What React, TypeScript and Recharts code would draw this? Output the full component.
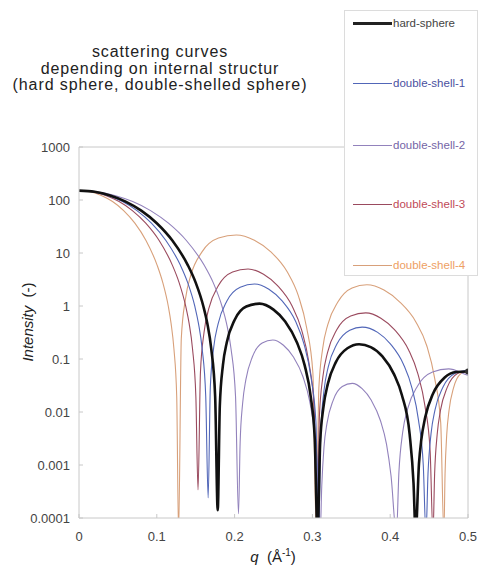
import React from 'react';
import { LineChart, Line, XAxis, YAxis } from 'recharts';

// [q (1/Å), intensity]
const hardSphere: [number, number][] = [
  [0, 150], [0.02, 142.6], [0.04, 122], [0.06, 93.4], [0.08, 63.1], [0.1, 36.5], [0.12, 17.2],
  [0.14, 5.85], [0.15, 2.76], [0.16, 0.969], [0.165, 0.464], [0.17, 0.156], [0.175, 0.0196],
  [0.1783, 0.00014], [0.181, 0.0131], [0.185, 0.0767], [0.19, 0.207], [0.2, 0.544], [0.215, 0.976],
  [0.232, 1.107], [0.25, 0.853], [0.265, 0.509], [0.28, 0.207], [0.29, 0.0767], [0.298, 0.0188],
  [0.303, 0.00313], [0.3066, 0.00005], [0.31, 0.00267], [0.314, 0.0118], [0.32, 0.0347],
  [0.33, 0.0863], [0.345, 0.1595], [0.36, 0.19], [0.375, 0.168], [0.39, 0.112], [0.405, 0.0512],
  [0.415, 0.0209], [0.425, 0.00378], [0.43, 0.00045], [0.4327, 0.00005], [0.437, 0.00107],
  [0.44, 0.00301], [0.445, 0.00795], [0.455, 0.0221], [0.47, 0.0447], [0.485, 0.0568], [0.5, 0.058],
];

const doubleShell1: [number, number][] = [
  [0, 150], [0.0186, 142.6], [0.0372, 122], [0.0559, 93.4], [0.0745, 63.1], [0.0931, 36.5],
  [0.1117, 17.2], [0.1304, 5.85], [0.1397, 2.76], [0.149, 0.969], [0.1536, 0.464], [0.1583, 0.156],
  [0.1629, 0.0196], [0.166, 0.00024],
  [0.1688, 0.0292], [0.1731, 0.164], [0.1788, 0.462], [0.1901, 1.245], [0.2072, 2.26], [0.2256, 2.6],
  [0.2441, 2.07], [0.2611, 1.245], [0.2782, 0.519], [0.2895, 0.184], [0.2981, 0.0462], [0.3045, 0.00653],
  [0.308, 0.00005],
  [0.3108, 0.00449], [0.3149, 0.0252], [0.3204, 0.0711], [0.3315, 0.191], [0.348, 0.348], [0.364, 0.4],
  [0.3839, 0.318], [0.4005, 0.191], [0.417, 0.0798], [0.428, 0.0283], [0.4363, 0.00711], [0.4425, 0.001],
  [0.446, 0.00005],
  [0.4486, 0.00069], [0.4525, 0.0039], [0.4576, 0.011], [0.4679, 0.0295], [0.4834, 0.0537], [0.5, 0.062],
];

const doubleShell2: [number, number][] = [
  [0, 150], [0.023, 142.6], [0.046, 122], [0.069, 93.4], [0.092, 63.1], [0.115, 36.5], [0.138, 17.2],
  [0.161, 5.85], [0.1725, 2.76], [0.184, 0.969], [0.1897, 0.464], [0.1954, 0.156], [0.2012, 0.0196],
  [0.205, 0.00012],
  [0.2071, 0.00257], [0.2103, 0.0145], [0.2145, 0.0407], [0.2229, 0.11], [0.2355, 0.2], [0.2491, 0.229],
  [0.2628, 0.182], [0.2754, 0.11], [0.288, 0.0457], [0.2964, 0.0162], [0.3027, 0.00407], [0.3074, 0.00058],
  [0.31, 0.00005],
  [0.312, 0.00039], [0.3149, 0.00219], [0.3188, 0.00617], [0.3267, 0.0166], [0.3384, 0.0302],
  [0.3512, 0.0347], [0.3639, 0.0275], [0.3757, 0.0166], [0.3874, 0.00692], [0.3953, 0.00245],
  [0.4011, 0.00062], [0.408, 0.00005],
  [0.4112, 0.00073], [0.416, 0.0041], [0.4224, 0.0115], [0.4352, 0.031], [0.4544, 0.0566],
  [0.4752, 0.065], [0.496, 0.0516], [0.5, 0.049],
];

const doubleShell3: [number, number][] = [
  [0, 150], [0.0172, 142.6], [0.0343, 122], [0.0515, 93.4], [0.0686, 63.1], [0.0858, 36.5],
  [0.103, 17.2], [0.1201, 5.85], [0.1287, 2.76], [0.1373, 0.969], [0.1416, 0.464], [0.1459, 0.156],
  [0.1502, 0.0196], [0.153, 0.00034],
  [0.1561, 0.0562], [0.1607, 0.316], [0.1668, 0.891], [0.179, 2.4], [0.1974, 4.37], [0.2173, 5.0],
  [0.2372, 3.98], [0.2555, 2.4], [0.2739, 1.0], [0.2861, 0.355], [0.2953, 0.0891], [0.3022, 0.0126],
  [0.306, 0.00005],
  [0.309, 0.00832], [0.3135, 0.0468], [0.3194, 0.132], [0.3313, 0.355], [0.3492, 0.646], [0.3686, 0.741],
  [0.388, 0.589], [0.4058, 0.355], [0.4237, 0.148], [0.4356, 0.0525], [0.4446, 0.0132], [0.4513, 0.00186],
  [0.455, 0.00005],
  [0.4571, 0.00068], [0.4604, 0.0038], [0.4646, 0.0107], [0.4732, 0.0288], [0.486, 0.0525], [0.5, 0.06],
];

const doubleShell4: [number, number][] = [
  [0, 150], [0.0144, 142.6], [0.0287, 122], [0.0431, 93.4], [0.0574, 63.1], [0.0718, 36.5],
  [0.0861, 17.2], [0.1005, 5.85], [0.1077, 2.76], [0.1149, 0.969], [0.1184, 0.464], [0.122, 0.156],
  [0.1256, 0.0196], [0.128, 0.00005],
  [0.1315, 0.245], [0.1369, 1.38], [0.1439, 3.89], [0.1581, 10.5], [0.1793, 19.1], [0.2023, 21.9],
  [0.2254, 17.4], [0.2466, 10.5], [0.2678, 4.37], [0.282, 1.55], [0.2926, 0.389], [0.3006, 0.055],
  [0.305, 0.00005],
  [0.3083, 0.0282], [0.3132, 0.158], [0.3198, 0.447], [0.3329, 1.2], [0.351, 2.19], [0.37, 2.51],
  [0.392, 2.0], [0.412, 1.2], [0.433, 0.501], [0.447, 0.178], [0.457, 0.0447], [0.4649, 0.0063],
  [0.469, 0.00005],
  [0.4705, 0.00068], [0.4727, 0.0038], [0.4756, 0.0107], [0.4815, 0.0288], [0.4904, 0.0525], [0.5, 0.06],
];

const xTicks = [0, 0.1, 0.2, 0.3, 0.4, 0.5];
const yTicks = [0.0001, 0.001, 0.01, 0.1, 1, 10, 100, 1000];

const seriesNames = ['hard-sphere', 'double-shell-1', 'double-shell-2', 'double-shell-3', 'double-shell-4'];
const seriesColors = ['#111111', '#5166b8', '#9282bc', '#9a4a5e', '#d8a07a'];
const legendTextColors = ['#444444', '#4a50a0', '#7464a6', '#c04a58', '#eea064'];
const seriesWidths = [2.6, 1.1, 1.1, 1.1, 1.1];
const seriesData = [hardSphere, doubleShell1, doubleShell2, doubleShell3, doubleShell4];

const toRows = (pts: [number, number][]) => pts.map(([q, I]) => ({ q, I }));

const FONT = '"Liberation Sans", Arial, Helvetica, sans-serif';

const XTick = (props: any) => {
  const { x, y, payload } = props;
  return (
    <g>
      <line x1={x} x2={x} y1={518} y2={514} stroke="#c8c8c8" />
      <text x={x} y={y} dy="0.71em" textAnchor="middle" fontSize={13} fill="#444" fontFamily={FONT}>
        {String(payload.value)}
      </text>
    </g>
  );
};

const YTick = (props: any) => {
  const { x, y, payload } = props;
  return (
    <g>
      <line x1={79} x2={83} y1={y} y2={y} stroke="#c8c8c8" />
      <text x={x} y={y} dy="0.35em" textAnchor="end" fontSize={13} fill="#444" fontFamily={FONT}>
        {String(payload.value)}
      </text>
    </g>
  );
};

const lastDot = (props: any) => {
  const { cx, cy, index } = props;
  if (index !== hardSphere.length - 1) return <g key={index} />;
  return <circle key={index} cx={cx} cy={cy} r={3} fill="#333" />;
};

export default function App() {
  return (
    <div style={{ position: 'absolute', left: 0, top: 0, width: 480, height: 572, background: '#fff', overflow: 'hidden' }}>
      <LineChart width={480} height={572} margin={{ top: 147, right: 12, bottom: 0, left: 0 }}>
        <XAxis
          type="number"
          dataKey="q"
          domain={[0, 0.5]}
          ticks={xTicks}
          allowDataOverflow
          height={54}
          tickLine={false}
          tickSize={6}
          tickMargin={8}
          axisLine={{ stroke: '#c8c8c8' }}
          tick={<XTick />}
        />
        <XAxis
          xAxisId="top"
          orientation="top"
          mirror
          type="number"
          domain={[0, 0.5]}
          ticks={xTicks}
          allowDataOverflow
          tick={false}
          tickSize={4}
          tickLine={{ stroke: '#c8c8c8' }}
          axisLine={{ stroke: '#c8c8c8' }}
        />
        <YAxis
          scale="log"
          type="number"
          domain={[0.0001, 1000]}
          ticks={yTicks}
          allowDataOverflow
          width={79}
          tickLine={false}
          tickSize={6}
          tickMargin={3}
          axisLine={{ stroke: '#c8c8c8' }}
          tick={<YTick />}
        />
        <YAxis
          yAxisId="right"
          orientation="right"
          mirror
          scale="log"
          type="number"
          domain={[0.0001, 1000]}
          ticks={yTicks}
          allowDataOverflow
          tick={false}
          tickSize={4}
          tickLine={{ stroke: '#c8c8c8' }}
          axisLine={{ stroke: '#c8c8c8' }}
        />
        {seriesData.map((pts, i) => (
          <Line
            key={seriesNames[i]}
            data={toRows(pts)}
            dataKey="I"
            type="monotone"
            stroke={seriesColors[i]}
            strokeWidth={seriesWidths[i]}
            dot={i === 0 ? lastDot : false}
            activeDot={false}
            isAnimationActive={false}
          />
        )).reverse()}
      </LineChart>

      <div
        style={{
          position: 'absolute', left: 0, top: 44, width: 320, textAlign: 'center',
          fontFamily: FONT, fontSize: 16, lineHeight: '16.5px', letterSpacing: 0.9, color: '#222',
        }}
      >
        <div>scattering curves</div>
        <div>depending on internal structur</div>
        <div>(hard sphere, double-shelled sphere)</div>
      </div>

      <div
        style={{
          position: 'absolute', left: 27, top: 322, transform: 'translate(-50%, -50%) rotate(-90deg)',
          whiteSpace: 'pre', fontFamily: FONT, fontSize: 15, color: '#222',
        }}
      >
        <i>Intensity</i>{'  (-)'}
      </div>

      <div
        style={{
          position: 'absolute', left: 273, top: 556, transform: 'translate(-50%, -50%)',
          whiteSpace: 'pre', fontFamily: FONT, fontSize: 15, color: '#222',
        }}
      >
        <i>q</i>{'  (Å'}<sup style={{ fontSize: 10 }}>-1</sup>{')'}
      </div>

      <div
        style={{
          position: 'absolute', left: 344, top: 10, width: 134, height: 266,
          background: '#fff', border: '1px solid #dcdcdc', boxSizing: 'border-box',
        }}
      >
        {seriesNames.map((name, i) => (
          <div
            key={name}
            style={{
              position: 'absolute', left: 8, top: [12, 72, 134, 193, 254][i] - 8, height: 16,
              display: 'flex', alignItems: 'center', whiteSpace: 'nowrap',
            }}
          >
            <div style={{ width: 39, height: 0, borderTop: `${i === 0 ? 3 : 1}px solid ${i === 0 ? '#222' : seriesColors[i]}` }} />
            <span style={{ fontFamily: FONT, fontSize: 11.5, color: legendTextColors[i], marginLeft: 1 }}>{name}</span>
          </div>
        ))}
      </div>
    </div>
  );
}
